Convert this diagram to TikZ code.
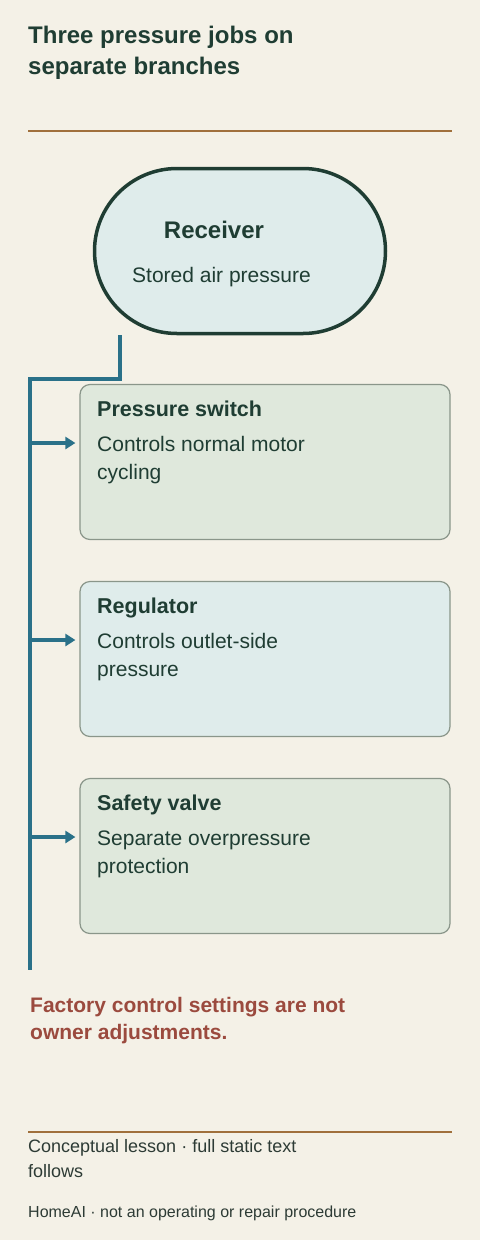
\documentclass[tikz,border=0pt]{standalone}
\usepackage{fontspec}
\setmainfont{Liberation Sans}
\usetikzlibrary{arrows.meta}
\definecolor{bg}{HTML}{F4F1E7}
\definecolor{ink}{HTML}{1F3D33}
\definecolor{rule}{HTML}{A0703C}
\definecolor{teal}{HTML}{2A7189}
\definecolor{warn}{HTML}{9B4A3E}
\definecolor{gfill}{HTML}{DFE8DC}
\definecolor{bfill}{HTML}{DFECEB}
\definecolor{bstroke}{HTML}{8A968A}
\definecolor{foot}{HTML}{2D3B35}
\tikzset{
  txt/.style={inner sep=0pt, anchor=base west, align=left, text=ink},
  card/.style={draw=bstroke, line width=1.2pt, rounded corners=10pt, minimum width=370pt, minimum height=155pt, inner sep=0pt},
  conn/.style={draw=teal, line width=3.5pt},
  rulestyle/.style={draw=rule, line width=2pt},
}
\begin{document}
\begin{tikzpicture}[x=1pt,y=-1pt]
\fill[bg] (0,0) rectangle (480,1240);
\useasboundingbox (0,0) rectangle (480,1240);

% title (anchor = baseline of last line)
\node[txt, font=\fontsize{24}{31}\selectfont\bfseries] (title) at (28,74) {Three pressure jobs on\\separate branches};
\coordinate (r1a) at (28,131);
\coordinate (r1b) at (452,131);
\draw[rulestyle] (r1a) -- (r1b);

% receiver
\node[draw=ink, line width=3.5pt, fill=bfill, minimum width=291pt, minimum height=165pt, rounded corners=82.5pt, inner sep=0pt] (recv) at (240,251) {};
\node[inner sep=0pt, anchor=base, text=ink, font=\fontsize{24}{28}\selectfont\bfseries] (recvt) at (214,238) {Receiver};
\node[txt, font=\fontsize{21}{28}\selectfont] (recvb) at (132,282) {Stored air pressure};

% cards
\node[card, fill=gfill] (c1) at (265,462) {};
\node[card, fill=bfill] (c2) at (265,659) {};
\node[card, fill=gfill] (c3) at (265,856) {};

\node[txt, font=\fontsize{21.5}{28}\selectfont\bfseries] (c1t) at (97,416) {Pressure switch};
\node[txt, font=\fontsize{21}{28}\selectfont] (c1b) at (97,479) {Controls normal motor\\cycling};
\node[txt, font=\fontsize{21.5}{28}\selectfont\bfseries] (c2t) at (97,613) {Regulator};
\node[txt, font=\fontsize{21}{28}\selectfont] (c2b) at (97,676) {Controls outlet-side\\pressure};
\node[txt, font=\fontsize{21.5}{28}\selectfont\bfseries] (c3t) at (97,810) {Safety valve};
\node[txt, font=\fontsize{21}{28}\selectfont] (c3b) at (97,873) {Separate overpressure\\protection};

% connectors
\coordinate (t0) at (120,335);
\coordinate (jn) at (30,379);
\coordinate (tend) at (30,970);
\draw[conn, line join=miter] (t0) |- (jn) -- (tend);
\coordinate (b1) at (30,443);
\coordinate (b2) at (30,640);
\coordinate (b3) at (30,837);
\foreach \b/\c in {b1/c1,b2/c2,b3/c3}{
  \draw[conn, -{Triangle[length=10pt,width=12pt]}, shorten >=4pt] (\b) -- (\c.west |- \b);
}

% warning
\node[txt, text=warn, font=\fontsize{21}{27}\selectfont\bfseries] (warnt) at (30,1039) {Factory control settings are not\\owner adjustments.};

% footer
\coordinate (r2a) at (28,1132);
\coordinate (r2b) at (452,1132);
\draw[rulestyle] (r2a) -- (r2b);
\node[txt, text=foot, font=\fontsize{18}{25}\selectfont] (ft1) at (28,1177) {Conceptual lesson · full static text\\follows};
\node[txt, text=foot, font=\fontsize{16}{20}\selectfont] (ft2) at (28,1217) {HomeAI · not an operating or repair procedure};
\end{tikzpicture}
\end{document}
